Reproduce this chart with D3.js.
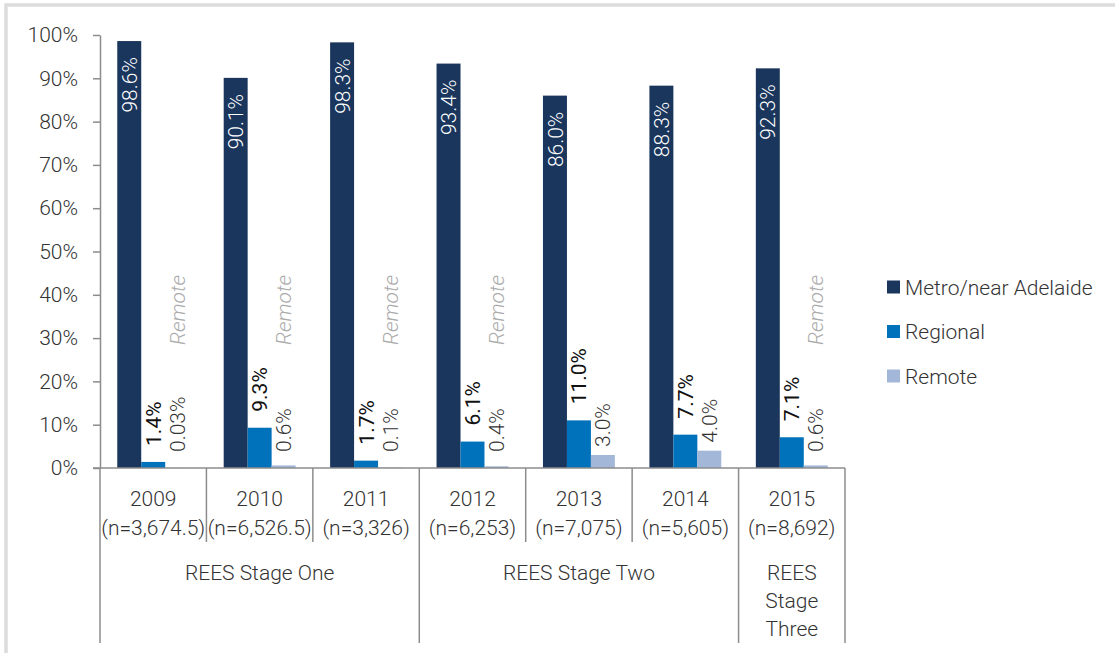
<!DOCTYPE html>
<html>
<head>
<meta charset="utf-8">
<script src="https://cdn.jsdelivr.net/npm/d3@7"></script>
<style>
  html, body { margin: 0; padding: 0; background: #fff; }
  svg { display: block; font-family: Roboto, "Noto Sans", sans-serif; }
</style>
</head>
<body>
<svg id="chart" width="1115" height="653"></svg>
<script>
// Survey years and sample sizes
const years = ["2009", "2010", "2011", "2012", "2013", "2014", "2015"];
const sampleLabels = ["(n=3,674.5)", "(n=6,526.5)", "(n=3,326)", "(n=6,253)", "(n=7,075)", "(n=5,605)", "(n=8,692)"];

// Programme stages and how many years each covers
const stageNames = ["REES Stage One", "REES Stage Two", "REES Stage Three"];
const stageSpans = [3, 3, 1];

// Share of households by location (%)
const seriesNames = ["Metro/near Adelaide", "Regional", "Remote"];
const metro = [98.6, 90.1, 98.3, 93.4, 86.0, 88.3, 92.3];
const regional = [1.4, 9.3, 1.7, 6.1, 11.0, 7.7, 7.1];
const remote = [0.03, 0.6, 0.1, 0.4, 3.0, 4.0, 0.6];

const yTicks = [0, 10, 20, 30, 40, 50, 60, 70, 80, 90, 100];

const colors = ["#1a365d", "#0071bb", "#a3b8d8"];
const axisColor = "#8c8c8c";
const textColor = "#333333";
const fontSize = "21px";

const svg = d3.select("#chart");

// Panel frame (top and left edges)
svg.append("rect").attr("x", 6).attr("y", 5).attr("width", 1115).attr("height", 660)
  .attr("fill", "none").attr("stroke", "#dcdcdc").attr("stroke-width", 3.5);

const plot = { left: 100, right: 845, top: 35, bottom: 468 };

const x = d3.scaleBand().domain(years).range([plot.left, plot.right]).padding(0);
const xSub = d3.scaleBand().domain(seriesNames).range([0, x.bandwidth()])
  .paddingInner(0).paddingOuter(0.72);
const y = d3.scaleLinear().domain([0, 100]).range([plot.bottom, plot.top]);

const rows = years.map((yr, i) => ({
  year: yr,
  values: [metro[i], regional[i], remote[i]]
}));

const fmt = v => (v < 0.1 ? v.toFixed(2) : v.toFixed(1)) + "%";

// Y axis
const yAxis = svg.append("g")
  .attr("transform", `translate(${plot.left},0)`)
  .call(d3.axisLeft(y).tickValues(yTicks).tickSize(7).tickSizeOuter(0)
    .tickPadding(15).tickFormat(d => d + "%"));
yAxis.select(".domain").attr("stroke", axisColor).attr("stroke-width", 1.5);
yAxis.selectAll(".tick line").attr("stroke", axisColor).attr("stroke-width", 1.5);
yAxis.selectAll(".tick text").attr("fill", textColor)
  .style("font-size", fontSize).style("font-weight", 300)
  .style("font-family", "Roboto, sans-serif");

// Bars
const groups = svg.append("g").selectAll("g.year")
  .data(rows).join("g").attr("class", "year")
  .attr("transform", d => `translate(${x(d.year)},0)`);

groups.selectAll("rect")
  .data(d => d.values.map((v, k) => ({ v, k })))
  .join("rect")
  .attr("x", d => xSub(seriesNames[d.k]))
  .attr("width", xSub.bandwidth())
  .attr("y", d => y(d.v))
  .attr("height", d => y(0) - y(d.v))
  .attr("fill", d => colors[d.k]);

// Value labels, rotated to read upwards
groups.each(function (d) {
  const g = d3.select(this);
  d.values.forEach((v, k) => {
    const cx = xSub(seriesNames[k]) + xSub.bandwidth() / 2;
    let yPos, anchor, fill, weight;
    if (k === 0) {
      yPos = y(v) + 16; anchor = "end"; fill = "#ffffff"; weight = 300;
    } else if (k === 1) {
      yPos = y(v) - 16; anchor = "start"; fill = "#111111"; weight = 400;
    } else {
      yPos = Math.min(y(v) - 8, plot.bottom - 16); anchor = "start"; fill = "#333333"; weight = 300;
    }
    g.append("text")
      .attr("transform", `translate(${cx},${yPos}) rotate(-90)`)
      .attr("dy", "0.36em")
      .attr("text-anchor", anchor)
      .attr("fill", fill)
      .style("font-size", fontSize)
      .style("font-weight", weight)
      .text(fmt(v));
  });
  // Series name beside bars too small to see
  if (d.values[2] < 1) {
    const cx = xSub(seriesNames[2]) + xSub.bandwidth() / 2;
    g.append("text")
      .attr("transform", `translate(${cx},310) rotate(-90)`)
      .attr("dy", "0.36em")
      .attr("text-anchor", "middle")
      .attr("fill", "#ababab")
      .style("font-size", fontSize)
      .style("font-weight", 300)
      .style("font-style", "italic")
      .text(seriesNames[2]);
  }
});

// Category axis: baseline, dividers and labels
const axisG = svg.append("g");
axisG.append("line")
  .attr("x1", plot.left - 7).attr("x2", plot.right)
  .attr("y1", plot.bottom).attr("y2", plot.bottom)
  .attr("stroke", axisColor).attr("stroke-width", 1.5);

const stageBounds = new Set();
let acc = 0;
stageBounds.add(0);
stageSpans.forEach(s => { acc += s; stageBounds.add(acc); });

d3.range(years.length + 1).forEach(i => {
  const xx = i < years.length ? x(years[i]) : plot.right;
  axisG.append("line")
    .attr("x1", xx).attr("x2", xx)
    .attr("y1", plot.bottom)
    .attr("y2", stageBounds.has(i) ? 643 : 542)
    .attr("stroke", axisColor).attr("stroke-width", 1.5);
});

years.forEach((yr, i) => {
  const cx = x(yr) + x.bandwidth() / 2;
  axisG.append("text").attr("x", cx).attr("y", 506)
    .attr("text-anchor", "middle").attr("fill", textColor)
    .style("font-size", fontSize).style("font-weight", 300).text(yr);
  axisG.append("text").attr("x", cx).attr("y", 535)
    .attr("text-anchor", "middle").attr("fill", textColor)
    .style("font-size", fontSize).style("font-weight", 300).text(sampleLabels[i]);
});

// Stage labels, wrapped to fit their span
let startIdx = 0;
stageNames.forEach((name, s) => {
  const x0 = x(years[startIdx]);
  const x1 = x(years[startIdx + stageSpans[s] - 1]) + x.bandwidth();
  const cx = (x0 + x1) / 2;
  const maxW = x1 - x0 - 12;
  const t = axisG.append("text").attr("text-anchor", "middle").attr("fill", textColor)
    .style("font-size", fontSize).style("font-weight", 300);
  const words = name.split(" ");
  let line = [], lineNo = 0;
  let tspan = t.append("tspan").attr("x", cx).attr("y", 580);
  words.forEach(w => {
    line.push(w);
    tspan.text(line.join(" "));
    if (tspan.node().getComputedTextLength() > maxW && line.length > 1) {
      line.pop();
      tspan.text(line.join(" "));
      line = [w];
      lineNo++;
      tspan = t.append("tspan").attr("x", cx).attr("y", 580 + lineNo * 28).text(w);
    }
  });
  startIdx += stageSpans[s];
});

// Legend
const legend = svg.append("g");
seriesNames.forEach((name, k) => {
  const cy = 287 + k * 44.5;
  legend.append("rect").attr("x", 887).attr("y", cy - 6.5)
    .attr("width", 13).attr("height", 13).attr("fill", colors[k]);
  legend.append("text").attr("x", 905).attr("y", cy).attr("dy", "0.36em")
    .attr("fill", textColor).style("font-size", fontSize).style("font-weight", 300)
    .text(name);
});
</script>
</body>
</html>
